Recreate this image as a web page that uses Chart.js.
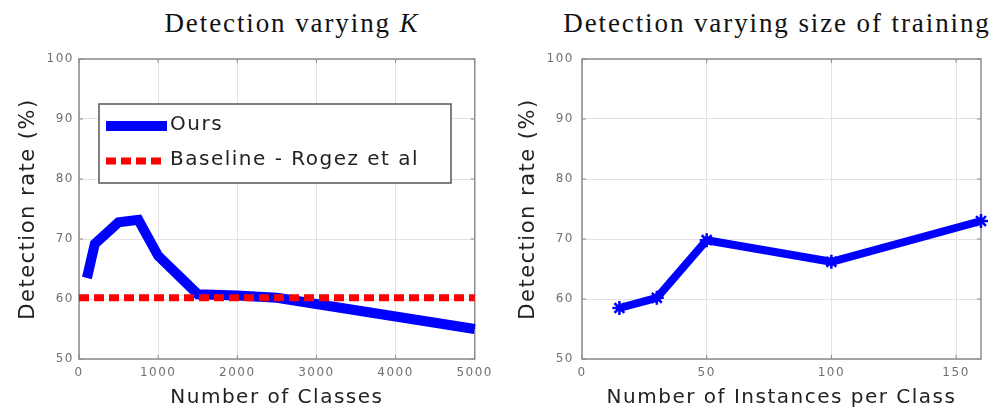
<!DOCTYPE html>
<html>
<head>
<meta charset="utf-8">
<title>Detection rate</title>
<script src="https://cdn.jsdelivr.net/npm/chart.js@4"></script>
<style>
  body { margin: 0; background: #fff; width: 999px; height: 410px; overflow: hidden; position: relative; }
  canvas { position: absolute; top: 0; }
  #left { left: 0; }
  #right { left: 500px; }
  .title {
    position: absolute; top: 10px; transform: translateX(-50%);
    font-family: "Liberation Serif", "DejaVu Serif", serif; font-size: 27px; line-height: 26px;
    letter-spacing: 1.9px; color: #111; white-space: nowrap;
  }
</style>
</head>
<body>
<div class="title" style="left:292px">Detection varying <i>K</i></div>
<div class="title" style="left:777px">Detection varying size of training</div>
<canvas id="left" width="500" height="410"></canvas>
<canvas id="right" width="499" height="410"></canvas>
<script>
// left panel: number of classes K
const classCounts = [100, 200, 500, 750, 1000, 1500, 2000, 2500, 5000];
const oursRate = [63.5, 69.2, 72.8, 73.2, 67.2, 60.8, 60.6, 60.2, 55.0];
const baselineX = [0, 5000];
const baselineRate = [60.2, 60.2];
const classTicks = [0, 1000, 2000, 3000, 4000, 5000];

// right panel: training instances per class
const instanceCounts = [15, 30, 50, 100, 160];
const instanceRate = [58.5, 60.2, 69.8, 66.2, 73.0];
const instanceTicks = [0, 50, 100, 150];

const rateTicks = [50, 60, 70, 80, 90, 100];

const BLUE = "#0000ff";
const RED = "#ff0000";
const sans = "'DejaVu Sans', sans-serif";

const toPoints = (xs, ys) => xs.map((x, i) => ({ x: x, y: ys[i] }));

// wide lettering for all canvas text
const spacing = {
  id: "spacing",
  beforeUpdate(chart) { chart.ctx.letterSpacing = "1.5px"; },
  beforeDraw(chart) { chart.ctx.letterSpacing = "1.5px"; }
};

// boxed axes with short inward tick marks
const frame = {
  id: "frame",
  beforeDatasetsDraw(chart) {
    const { ctx, chartArea: a, scales } = chart;
    ctx.save();
    ctx.strokeStyle = "#8c8c8c";
    ctx.lineWidth = 1;
    ctx.beginPath();
    scales.x.ticks.forEach(t => {
      const px = scales.x.getPixelForValue(t.value);
      ctx.moveTo(px, a.bottom); ctx.lineTo(px, a.bottom - 4);
      ctx.moveTo(px, a.top); ctx.lineTo(px, a.top + 4);
    });
    scales.y.ticks.forEach(t => {
      const py = scales.y.getPixelForValue(t.value);
      ctx.moveTo(a.left, py); ctx.lineTo(a.left + 4, py);
      ctx.moveTo(a.right, py); ctx.lineTo(a.right - 4, py);
    });
    ctx.stroke();
    ctx.lineWidth = 1.5;
    ctx.strokeRect(a.left, a.top, a.right - a.left, a.bottom - a.top);
    ctx.restore();
  }
};

// legend box inside the plot, upper left
const boxLegend = {
  id: "boxLegend",
  afterDraw(chart) {
    const { ctx, chartArea: a } = chart;
    const x0 = a.left + 20, y0 = a.top + 45, w = 352, h = 79;
    ctx.save();
    ctx.fillStyle = "#fff";
    ctx.fillRect(x0, y0, w, h);
    ctx.strokeStyle = "#555";
    ctx.lineWidth = 1.5;
    ctx.strokeRect(x0, y0, w, h);
    const rows = [22, 57];
    chart.data.datasets.slice().reverse().forEach((ds, i) => {
      const y = y0 + rows[i];
      ctx.strokeStyle = ds.borderColor;
      ctx.lineWidth = ds.borderWidth;
      ctx.setLineDash(ds.borderDash || []);
      ctx.beginPath();
      ctx.moveTo(x0 + 7, y);
      ctx.lineTo(x0 + (ds.borderDash ? 66 : 68), y);
      ctx.stroke();
      ctx.setLineDash([]);
      ctx.fillStyle = "#222";
      ctx.font = "20px " + sans;
      ctx.textBaseline = "middle";
      ctx.fillText(ds.label, x0 + 71, y - 1);
    });
    ctx.restore();
  }
};

function axes(xMin, xMax, xTicks, xTitle, yWidth, yPad, rightPad) {
  return {
    responsive: false,
    animation: false,
    layout: { padding: { left: 0, top: 59, right: rightPad, bottom: 0 } },
    plugins: { legend: { display: false }, tooltip: { enabled: false } },
    scales: {
      x: {
        type: "linear",
        min: xMin, max: xMax,
        afterFit: s => { s.height = 51; },
        afterBuildTicks: s => { s.ticks = xTicks.map(v => ({ value: v })); },
        grid: { color: "#e2e2e2", drawTicks: false },
        border: { display: false },
        ticks: {
          padding: 7, maxRotation: 0, autoSkip: false,
          color: "#707070", font: { family: sans, size: 12 },
          callback: v => String(v)
        },
        title: {
          display: true, text: xTitle, color: "#222",
          font: { family: sans, size: 20 }, padding: { top: 0, bottom: 0 }
        }
      },
      y: {
        min: 50, max: 100,
        afterFit: s => { s.width = yWidth; },
        afterBuildTicks: s => { s.ticks = rateTicks.map(v => ({ value: v })); },
        grid: { color: "#e2e2e2", drawTicks: false },
        border: { display: false },
        ticks: { padding: yPad, color: "#707070", font: { family: sans, size: 12 } },
        title: {
          display: true, text: "Detection rate (%)", color: "#222",
          font: { family: sans, size: 21 }, padding: { top: 16, bottom: 0 }
        }
      }
    }
  };
}

new Chart(document.getElementById("left"), {
  type: "line",
  data: {
    datasets: [
      {
        label: "Baseline - Rogez et al",
        data: toPoints(baselineX, baselineRate),
        borderColor: RED, borderWidth: 7, borderDash: [10, 5],
        pointRadius: 0, clip: false
      },
      {
        label: "Ours",
        data: toPoints(classCounts, oursRate),
        borderColor: BLUE, borderWidth: 10, tension: 0,
        pointRadius: 0, clip: false
      }
    ]
  },
  options: axes(0, 5000, classTicks, "Number of Classes", 79, 5, 21),
  plugins: [spacing, frame, boxLegend]
});

new Chart(document.getElementById("right"), {
  type: "line",
  data: {
    datasets: [{
      label: "Ours",
      data: toPoints(instanceCounts, instanceRate),
      borderColor: BLUE, borderWidth: 8, tension: 0, borderJoinStyle: "round",
      pointStyle: "star", pointRadius: 7, pointBorderWidth: 2.5,
      pointBorderColor: BLUE, pointBackgroundColor: BLUE, clip: false
    }]
  },
  options: axes(0, 160, instanceTicks, "Number of Instances per Class", 82, 8, 18),
  plugins: [spacing, frame]
});
</script>
</body>
</html>
